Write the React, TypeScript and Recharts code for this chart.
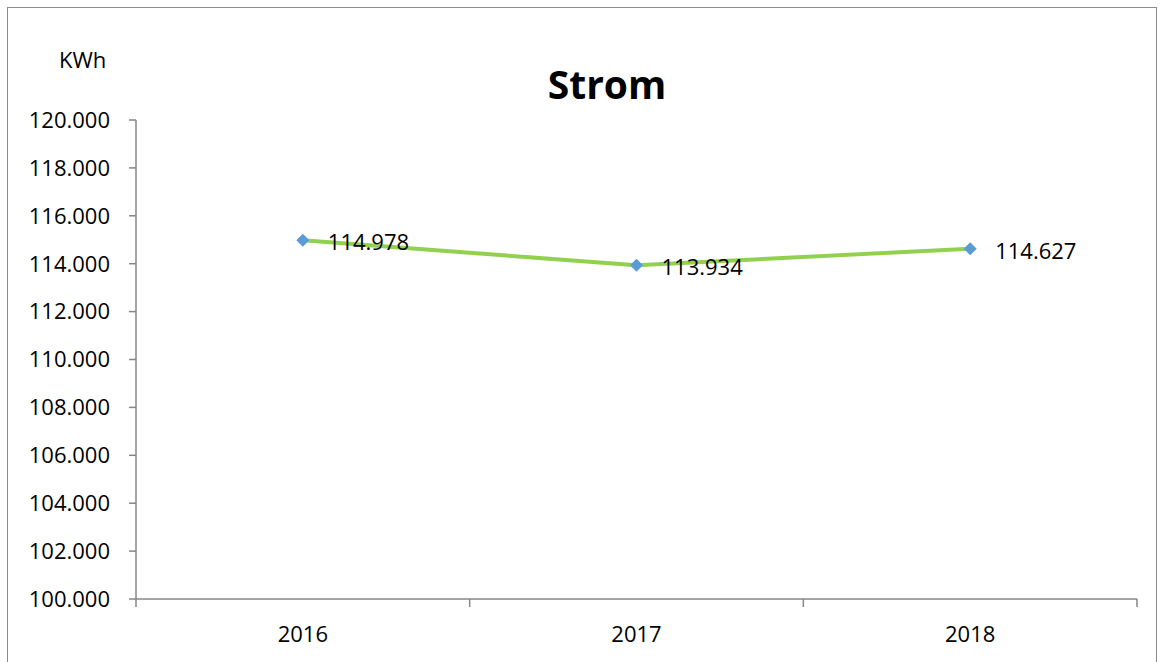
import { LineChart, Line, XAxis, YAxis, LabelList } from 'recharts'

const years = ['2016', '2017', '2018']
const stromKwh = [114978, 113934, 114627]
const yTicks = [100000, 102000, 104000, 106000, 108000, 110000, 112000, 114000, 116000, 118000, 120000]

const data = years.map((year, i) => ({ year, value: stromKwh[i] }))

const FONT = '"Open Sans", Calibri, sans-serif'
const W = 1160
const H = 662
const MARGIN = { top: 120, right: 23, left: 0, bottom: 33 }
const Y_AXIS_W = 136
const PLOT_W = W - MARGIN.left - MARGIN.right - Y_AXIS_W
const HALF_BAND = PLOT_W / years.length / 2

const fmt = (v: number) => v.toLocaleString('de-DE', { minimumFractionDigits: 0 })
const fmtTick = (v: number) => {
  const s = String(Math.round(v))
  return s.slice(0, s.length - 3) + '.' + s.slice(-3)
}

function Diamond(props: any) {
  const { cx, cy } = props
  if (cx == null || cy == null) return null
  const r = 6.5
  return (
    <polygon
      points={`${cx},${cy - r} ${cx + r},${cy} ${cx},${cy + r} ${cx - r},${cy}`}
      fill="#5B9BD5"
    />
  )
}

function YearTick(props: any) {
  const { x, y, payload, index } = props
  const axisY = y - 8
  return (
    <g>
      <line x1={x - HALF_BAND} y1={axisY} x2={x - HALF_BAND} y2={axisY + 8} stroke="#868686" strokeWidth={1.5} />
      {index === years.length - 1 && (
        <line x1={x + HALF_BAND} y1={axisY} x2={x + HALF_BAND} y2={axisY + 8} stroke="#868686" strokeWidth={1.5} />
      )}
      <text x={x} y={axisY + 43} textAnchor="middle" fontSize={22} fontFamily={FONT} fill="#000">
        {payload.value}
      </text>
    </g>
  )
}

function ValueLabel(props: any) {
  const { x, y, value } = props
  return (
    <text x={x + 25} y={y + 10} fontSize={22} fontFamily={FONT} fill="#000">
      {fmtTick(value)}
    </text>
  )
}

export default function App() {
  return (
    <div
      style={{
        position: 'absolute',
        left: 0,
        top: 0,
        width: W,
        height: H,
        overflow: 'hidden',
        background: '#fff',
        fontFamily: FONT,
      }}
    >
      <div
        style={{
          position: 'absolute',
          left: 7,
          top: 7,
          width: 1150,
          height: 720,
          border: '1.5px solid #8c8c8c',
          boxSizing: 'border-box',
        }}
      />
      <div
        style={{
          position: 'absolute',
          left: 407,
          width: 400,
          top: 56,
          textAlign: 'center',
          fontSize: 39,
          fontWeight: 700,
          color: '#000',
          lineHeight: '56px',
        }}
      >
        Strom
      </div>
      <div
        style={{
          position: 'absolute',
          left: 59,
          top: 44,
          fontSize: 22,
          color: '#000',
          lineHeight: '30px',
        }}
      >
        KWh
      </div>
      <div style={{ position: 'absolute', left: 0, top: 0 }}>
        <LineChart width={W} height={H} data={data} margin={MARGIN}>
          <XAxis
            dataKey="year"
            scale="band"
            axisLine={{ stroke: '#868686', strokeWidth: 1.5 }}
            tickLine={false}
            tick={<YearTick />}
            height={30}
            interval={0}
          />
          <YAxis
            width={Y_AXIS_W}
            domain={[100000, 120000]}
            ticks={yTicks}
            interval={0}
            tickFormatter={fmtTick}
            axisLine={{ stroke: '#868686', strokeWidth: 1.5 }}
            tickLine={{ stroke: '#868686', strokeWidth: 1.5 }}
            tickSize={7}
            tickMargin={19}
            tick={{ fill: '#000', fontSize: 22, fontFamily: FONT }}
          />
          <Line
            dataKey="value"
            stroke="#92D050"
            strokeWidth={4}
            dot={<Diamond />}
            activeDot={false}
            isAnimationActive={false}
          >
            <LabelList dataKey="value" content={<ValueLabel />} />
          </Line>
        </LineChart>
      </div>
    </div>
  )
}
